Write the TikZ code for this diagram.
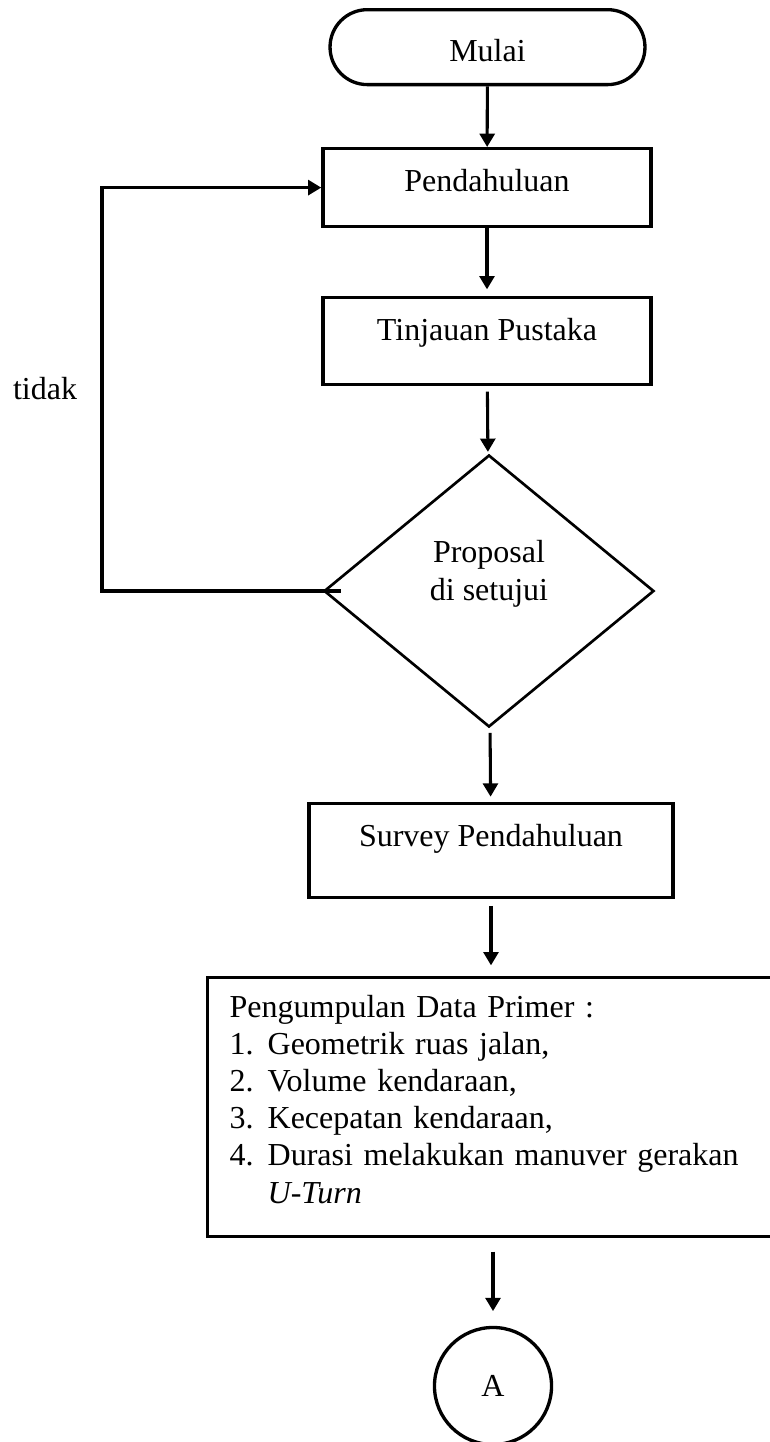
\documentclass[tikz,border=0pt]{standalone}
\usepackage{fontspec}
\setmainfont{Liberation Serif}
\usetikzlibrary{arrows.meta,shapes.geometric}
\tikzset{
  base/.style={draw, line width=1.25pt, inner sep=0pt},
  terminal/.style={base, rounded corners=14pt, minimum width=118.1pt, text height=19.5pt, text depth=8.6pt, anchor=north},
  process/.style={base, text height=16.1pt, anchor=north},
  decision/.style={base, diamond, line width=1pt, minimum width=123.75pt, minimum height=102pt, align=center, text height=22.4pt, text depth=15.65pt},
  connector/.style={base, circle, minimum size=43.9pt},
  arr/.style={line width=1.15pt, -{Triangle[width=5.6pt,length=5pt]}}
}
\begin{document}
\begin{tikzpicture}[x=0.375pt, y=-0.375pt, font=\fontsize{12pt}{13.9pt}\selectfont]
        \useasboundingbox (0,0) rectangle (769,1442);

        \node[terminal] (mulai) at (487.5,8) {Mulai};
        \node[process, minimum width=123pt, text depth=13.1pt] (pend) at (487,147) {Pendahuluan};
        \node[process, minimum width=123pt, text depth=16.5pt] (tinj) at (487,296) {Tinjauan Pustaka};
        \node[decision] (prop) at (489,591) {Proposal\\di setujui};
        \node[process, minimum width=136.5pt, text depth=19.1pt] (survey) at (491,802) {Survey Pendahuluan};
        \node[base, anchor=north west, align=left, text width=198.75pt, inner xsep=8.25pt, text height=15pt, text depth=82.1pt] (data) at (206,976) {Pengumpulan Data Primer :\\
          \makebox[14.25pt][l]{1.}Geometrik ruas jalan,\\
          \makebox[14.25pt][l]{2.}Volume kendaraan,\\
          \makebox[14.25pt][l]{3.}Kecepatan kendaraan,\\
          \makebox[14.25pt][l]{4.}Durasi melakukan manuver gerakan\\
          \hspace*{14.25pt}\textit{U-Turn}};
        \node[connector] (cA) at (493,1386) {A};
        \node[anchor=base] (tidak) at (45,399) {tidak};
        \coordinate (back) at (102,591);

        \draw[arr] (mulai) -- (pend);
        \draw[arr, shorten >=2.5pt] (pend) -- (tinj);
        \draw[arr, shorten <=2pt, shorten >=1pt] (tinj) -- (prop);
        \draw[arr, shorten <=2pt, shorten >=2pt] (prop) -- (survey);
        \draw[arr, shorten <=2.5pt, shorten >=4pt] (survey) -- (survey |- data.north);
        \draw[arr, shorten <=5pt, shorten >=5.5pt] (data.south -| cA) -- (cA);
        \draw[arr, line width=1.25pt] ([xshift=6.75pt]prop.west) -- (back) |- (pend.west);
\end{tikzpicture}
\end{document}
